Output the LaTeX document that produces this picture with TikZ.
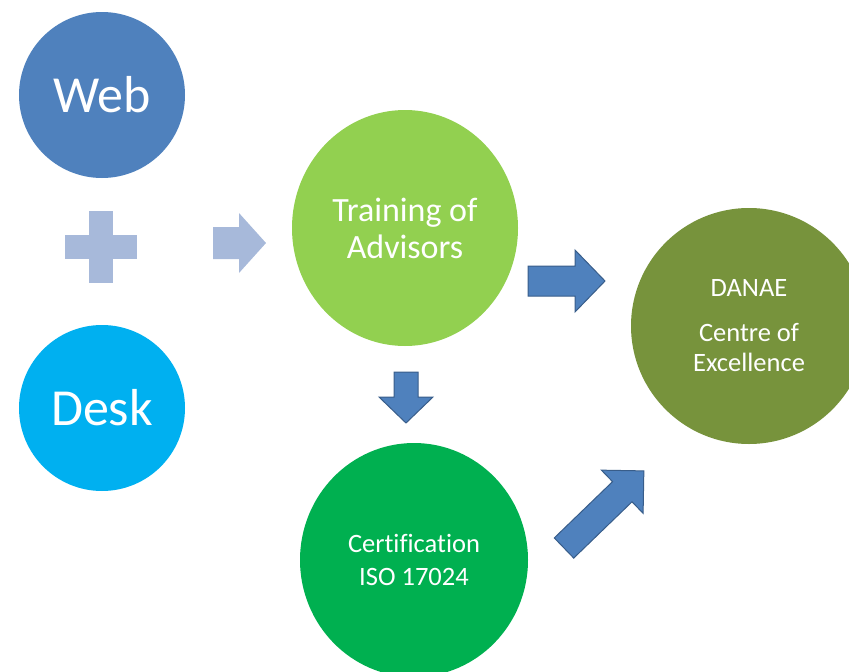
\documentclass[tikz,border=0pt]{standalone}
\usepackage{fontspec}
\setmainfont[Ligatures=NoCommon]{Carlito}
\usetikzlibrary{positioning}
\usetikzlibrary{shapes.geometric}
\definecolor{webblue}{RGB}{79,129,189}
\definecolor{deskblue}{RGB}{0,176,240}
\definecolor{traingreen}{RGB}{146,208,80}
\definecolor{certgreen}{RGB}{0,176,80}
\definecolor{danaegreen}{RGB}{119,147,60}
\definecolor{lightblue}{RGB}{167,185,218}
\definecolor{arrowedge}{RGB}{56,93,138}
\tikzset{disc/.style = {ellipse, inner sep=0pt, text=white, align=center},
         bigtext/.style = {font=\fontsize{52}{60}\selectfont},
         blockarrow/.style = {fill=webblue, draw=arrowedge, line width=1pt, line join=miter},
         lightshape/.style = {fill=lightblue}}

\begin{document}
\begin{tikzpicture}[x=1pt, y=-1pt]
      \useasboundingbox (0,0) rectangle (849,672);
      \clip (0,0) rectangle (849,672);
      % sources
      \node [disc, bigtext, fill=webblue, minimum size=166pt] (web) at (102,95) {Web};
      \node [disc, bigtext, fill=deskblue, minimum size=166pt] (desk) at (102,408) {Desk};
      \fill [lightshape] (89,211) rectangle (113,283);
      \fill [lightshape] (65,235) rectangle (137,259);
      \fill [lightshape] (213,227) -- (239,227) -- (239,213) -- (266,243)
            -- (239,273) -- (239,259) -- (213,259) -- cycle;
      % stages
      \node [disc, fill=traingreen, minimum width=226pt, minimum height=236pt,
             font=\fontsize{34}{37}\selectfont]
            (training) at (405,228) {Training of\\Advisors};
      \node [disc, fill=certgreen, minimum width=228pt, minimum height=234pt,
             font=\fontsize{26.5}{33}\selectfont]
            (cert) at (414,560) {Certification\\ISO 17024};
      \node [disc, fill=danaegreen, minimum size=236pt, font=\fontsize{26.5}{30}\selectfont]
            (danae) at (749,326) {DANAE\\[15pt]Centre of\\Excellence};
      % block arrows
      \draw [blockarrow] (528,266) -- (575,266) -- (575,250) -- (605,281)
            -- (575,312) -- (575,296) -- (528,296) -- cycle;
      \draw [blockarrow] (394,372) -- (418,372) -- (418,397) -- (433,397)
            -- (406,423) -- (379,397) -- (394,397) -- cycle;
      \begin{scope}[shift={(564,548)}, rotate=44]
        \draw [blockarrow] (0,-14) -- (81,-14) -- (81,-30) -- (111,0)
              -- (81,30) -- (81,14) -- (0,14) -- cycle;
      \end{scope}
\end{tikzpicture}
\end{document}
